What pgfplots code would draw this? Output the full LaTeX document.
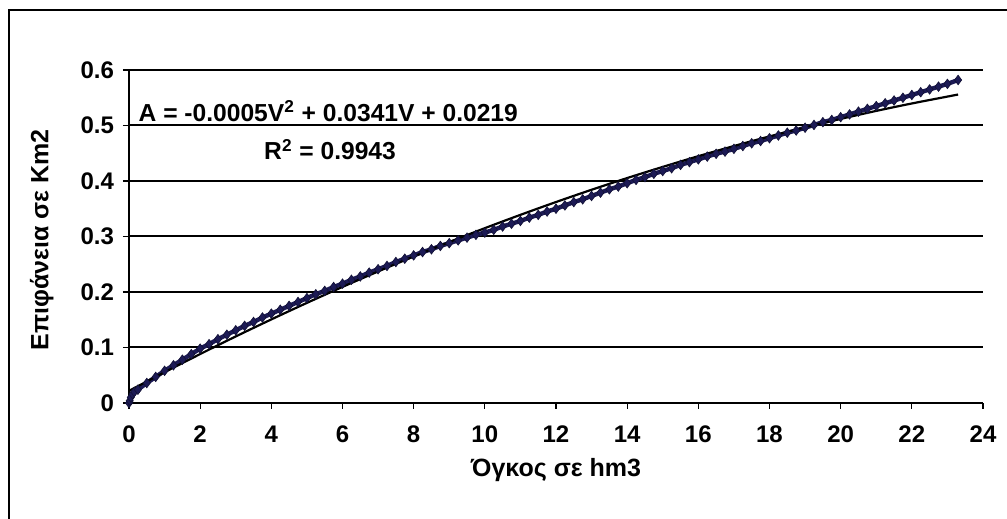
\documentclass[border=0pt]{standalone}
\usepackage{fontspec}
\setmainfont{Liberation Sans}
\usepackage{pgfplots}
\pgfplotsset{compat=1.18}
\definecolor{datablue}{RGB}{28,26,85}
\begin{document}
\begin{tikzpicture}[x=1pt,y=1pt]
\useasboundingbox (-64.5,-58) rectangle (439,201.5);
\draw[line width=1pt] (-60,-58) -- (-60,196.5) -- (439,196.5);
\begin{axis}[
    at={(0,0)}, anchor=south west,
    scale only axis,
    width=427pt, height=166.5pt,
    xmin=0, xmax=24, ymin=0, ymax=0.6,
    axis x line*=bottom, axis y line*=left,
    axis line style={-, black, line width=1pt},
    xtick={0,2,...,24},
    ytick={0,0.1,0.2,0.3,0.4,0.5,0.6},
    ymajorgrids,
    grid style={black, line width=1pt},
    tick align=outside,
    major tick length=3pt,
    tick style={black, line width=0.6pt},
    /pgf/number format/assume math mode=true,
    ticklabel style={font=\bfseries\fontsize{12}{14}\selectfont},
    xticklabel style={yshift=-5pt},
    yticklabel style={xshift=-1pt},
    xlabel={Όγκος σε hm3},
    ylabel={Επιφάνεια σε Km2},
    label style={font=\bfseries\fontsize{12.5}{14}\selectfont},
    xlabel style={at={(axis description cs:0.5,-0.201)}, anchor=center},
    ylabel style={at={(axis description cs:-0.102,0.49)}, anchor=center},
    clip=false,
]
% measured points
\addplot[datablue, line width=2.2pt, mark=diamond*, mark size=2.4pt,
  mark options={fill=datablue, draw=datablue!60!black, line width=0.3pt}]
coordinates {
(0,0) (0.02,0.004) (0.05,0.010) (0.1,0.016) (0.15,0.020)
(0.25,0.024) (0.5,0.036) (0.75,0.047) (1,0.058) (1.25,0.068)
(1.5,0.078) (1.75,0.088) (2,0.098) (2.25,0.106) (2.5,0.115)
(2.75,0.123) (3,0.131) (3.25,0.139) (3.5,0.146) (3.75,0.154)
(4,0.161) (4.25,0.168) (4.5,0.175) (4.75,0.182) (5,0.189)
(5.25,0.196) (5.5,0.202) (5.75,0.209) (6,0.215) (6.25,0.222)
(6.5,0.228) (6.75,0.235) (7,0.241) (7.25,0.247) (7.5,0.254)
(7.75,0.260) (8,0.266) (8.25,0.272) (8.5,0.277) (8.75,0.283)
(9,0.288) (9.25,0.293) (9.5,0.298) (9.75,0.303) (10,0.307)
(10.25,0.312) (10.5,0.318) (10.75,0.323) (11,0.328) (11.25,0.334)
(11.5,0.339) (11.75,0.345) (12,0.350) (12.25,0.356) (12.5,0.362)
(12.75,0.367) (13,0.373) (13.25,0.379) (13.5,0.385) (13.75,0.390)
(14,0.396) (14.25,0.402) (14.5,0.407) (14.75,0.413) (15,0.418)
(15.25,0.423) (15.5,0.429) (15.75,0.434) (16,0.439) (16.25,0.444)
(16.5,0.449) (16.75,0.453) (17,0.458) (17.25,0.463) (17.5,0.468)
(17.75,0.472) (18,0.477) (18.25,0.482) (18.5,0.487) (18.75,0.491)
(19,0.496) (19.25,0.501) (19.5,0.506) (19.75,0.510) (20,0.515)
(20.25,0.520) (20.5,0.525) (20.75,0.530) (21,0.535) (21.25,0.540)
(21.5,0.545) (21.75,0.550) (22,0.555) (22.25,0.560) (22.5,0.565)
(22.75,0.570) (23,0.575) (23.3,0.582)
};
% polynomial trend line
\addplot[black, line width=1.1pt, smooth] coordinates {
(0,0.0219) (1,0.0555) (2,0.0882) (3,0.1199) (4,0.1506) (5,0.1804)
(6,0.2092) (7,0.2370) (8,0.2640) (9,0.2900) (10,0.3150) (11,0.3390)
(12,0.3621) (13,0.3842) (14,0.4053) (15,0.4254) (16,0.4447) (17,0.4630)
(18,0.4803) (19,0.4966) (20,0.5119) (21,0.5263) (22,0.5397) (23,0.5521)
(23.3,0.5558)
};
\node[anchor=base, font=\bfseries\fontsize{12.3}{14}\selectfont, inner sep=0pt]
  at (axis cs:5.6,0.507) {A = -0.0005V\textsuperscript{2} + 0.0341V + 0.0219};
\node[anchor=base, font=\bfseries\fontsize{12.3}{14}\selectfont, inner sep=0pt]
  at (axis cs:5.65,0.438) {R\textsuperscript{2} = 0.9943};
\end{axis}
\end{tikzpicture}
\end{document}
